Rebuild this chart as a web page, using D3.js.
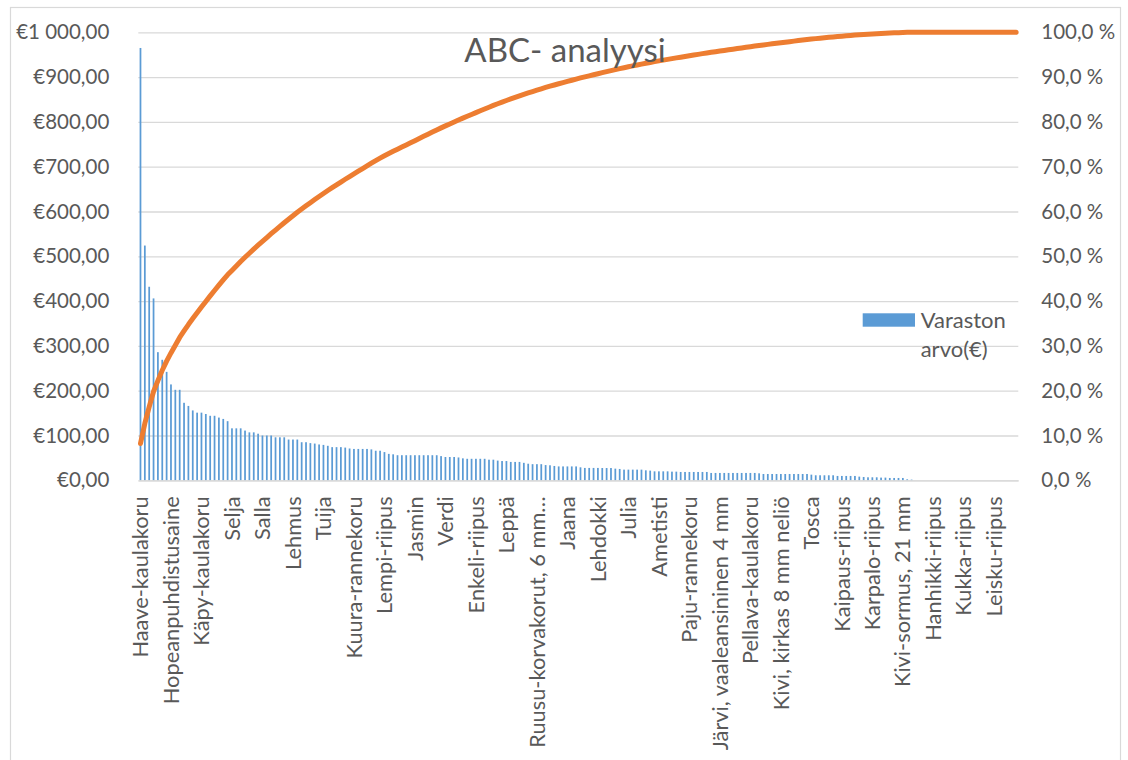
<!DOCTYPE html>
<html>
<head>
<meta charset="utf-8">
<script src="https://cdn.jsdelivr.net/npm/d3@7"></script>
<style>
  body { margin: 0; background: #fff; }
  svg { display: block; }
  text { font-family: Lato, "Open Sans", sans-serif; fill: #595959; }
</style>
</head>
<body>
<svg id="chart" width="1128" height="760"></svg>
<script>
// ABC analysis: stock value per item (sorted, descending) and cumulative share
const chartTitle = "ABC- analyysi";
const seriesLabel = ["Varaston", "arvo(€)"];

// Stock value (€) per item, items 1–202
const stockValues = [
  965, 524, 432, 406, 286, 269, 242, 214, 202, 202,
  173, 166, 156, 151, 151, 148, 144, 144, 140, 137,
  132, 116, 116, 116, 111, 107, 107, 104, 100, 100,
  100, 96, 96, 96, 91, 91, 91, 85, 85, 83,
  82, 80,
  79, 77, 74, 74, 74, 73, 71, 70, 70, 70,
  70, 69, 66, 66, 63, 59, 58, 56, 56, 56,
  56, 56, 56, 56, 56, 56, 56, 54, 52, 52,
  52, 51, 49, 48, 48, 48, 48, 48, 46, 46,
  44, 43, 43, 41, 41, 41, 39, 37, 36, 36,
  36, 34, 33.5, 32, 31, 31, 31, 31, 31, 29,
  27.6, 27.6, 27.6, 27.6,
  27.4, 27.4, 27.4, 26, 25.3, 23.8, 23.8, 23.8, 23.8, 23.8,
  22.3, 21.6, 20, 20, 20, 20, 19.3, 19.3, 18.6, 18.6,
  18.6, 18.6, 18.6, 18.6, 18.6, 16.4, 16.4, 16.4, 16.4, 16.4,
  16.4, 16.4, 16.4, 16.4, 16.4, 16.4, 15.6, 14.1, 14.1, 14.1,
  14.1, 14.1, 14.1, 14.1, 14.1, 14.1, 14.1, 14.1, 12.6, 11.2,
  11.2, 11.2, 11.2, 11.2, 9.7, 9.7, 9.7, 9.7, 9.7, 8.2,
  7.4, 6.7, 6.7, 6.7, 6, 6, 5.2, 5.2, 5.2, 5.2,
  2.2, 1.5,
  0, 0, 0, 0, 0, 0, 0, 0, 0, 0,
  0, 0, 0, 0, 0, 0, 0, 0, 0, 0,
  0, 0, 0, 0
];

// Item names shown on the category axis (every 7th item)
const labelEvery = 7;
const itemLabels = [
  "Haave-kaulakoru", "Hopeanpuhdistusaine", "Käpy-kaulakoru", "Selja", "Salla",
  "Lehmus", "Tuija", "Kuura-rannekoru", "Lempi-riipus", "Jasmin",
  "Verdi", "Enkeli-riipus", "Leppä", "Ruusu-korvakorut, 6 mm…", "Jaana",
  "Lehdokki", "Julia", "Ametisti", "Paju-rannekoru", "Järvi, vaaleansininen 4 mm",
  "Pellava-kaulakoru", "Kivi, kirkas 8 mm neliö", "Tosca", "Kaipaus-riipus", "Karpalo-riipus",
  "Kivi-sormus, 21 mm", "Hanhikki-riipus", "Kukka-riipus", "Leisku-riipus"
];

const valueTicks = [0, 100, 200, 300, 400, 500, 600, 700, 800, 900, 1000];
const shareTicks = [0, 0.1, 0.2, 0.3, 0.4, 0.5, 0.6, 0.7, 0.8, 0.9, 1.0];

const plot = { left: 138.3, right: 1018.3, top: 32.3, bottom: 480.3 };
const barColor = "#5B9BD5";
const lineColor = "#ED7D31";
const gridColor = "#d9d9d9";

const fi = d3.formatLocale({ decimal: ",", thousands: "\u00a0", grouping: [3], currency: ["€", ""] });
const euro = fi.format("$,.2f");
const pct1 = fi.format(".1f");

const svg = d3.select("#chart");

// chart area frame
svg.append("rect")
  .attr("x", 10.5).attr("y", 7.5).attr("width", 1110).attr("height", 800)
  .attr("fill", "#fff").attr("stroke", gridColor).attr("stroke-width", 1.2);

const idx = d3.range(stockValues.length);
const x = d3.scaleBand().domain(idx).range([plot.left, plot.right])
  .paddingInner(0.6).paddingOuter(0.3);
const y = d3.scaleLinear().domain([0, 1000]).range([plot.bottom, plot.top]);
const yShare = d3.scaleLinear().domain([0, 1]).range([plot.bottom, plot.top]);

// left axis with gridlines
const gLeft = svg.append("g").attr("transform", `translate(${plot.left},0)`)
  .call(d3.axisLeft(y).tickValues(valueTicks)
    .tickSize(-(plot.right - plot.left)).tickPadding(29)
    .tickFormat(d => euro(d)));
gLeft.select(".domain").remove();
gLeft.selectAll(".tick line").attr("stroke", gridColor).attr("stroke-width", 1.3);
gLeft.selectAll(".tick text").style("font-size", "20.5px").style("fill", "#595959");

// right axis (cumulative share)
const gRight = svg.append("g").attr("transform", `translate(${plot.right},0)`)
  .call(d3.axisRight(yShare).tickValues(shareTicks).tickSize(0).tickPadding(23)
    .tickFormat(d => pct1(d * 100) + " %"));
gRight.select(".domain").remove();
gRight.selectAll(".tick text").style("font-size", "20.5px").style("fill", "#595959");

// bars
svg.append("g").selectAll("rect").data(stockValues).join("rect")
  .attr("x", (d, i) => x(i))
  .attr("y", d => y(d))
  .attr("width", x.bandwidth())
  .attr("height", d => y(0) - y(d))
  .attr("fill", barColor);

// category axis
const gBottom = svg.append("g").attr("transform", `translate(0,${plot.bottom})`)
  .call(d3.axisBottom(x)
    .tickValues(idx.filter(i => i % labelEvery === 0))
    .tickFormat(i => itemLabels[i / labelEvery])
    .tickSize(0).tickSizeOuter(0));
gBottom.select(".domain").attr("stroke", gridColor).attr("stroke-width", 1.3);
gBottom.selectAll(".tick text")
  .attr("transform", "rotate(-90)")
  .attr("text-anchor", "end")
  .attr("x", -16).attr("y", 0).attr("dy", "0.35em")
  .style("font-size", "21.8px").style("fill", "#595959");

// cumulative share line
const total = d3.sum(stockValues);
const cumShare = Array.from(d3.cumsum(stockValues), v => v / total);
svg.append("path")
  .datum(cumShare)
  .attr("fill", "none")
  .attr("stroke", lineColor)
  .attr("stroke-width", 5)
  .attr("stroke-linecap", "round")
  .attr("stroke-linejoin", "round")
  .attr("d", d3.line()
    .x((d, i) => x(i) + x.bandwidth() / 2)
    .y(d => yShare(d)));

// title
svg.append("text")
  .attr("x", 565).attr("y", 61.5)
  .attr("text-anchor", "middle")
  .style("font-size", "33px")
  .text(chartTitle);

// legend
const legend = svg.append("g");
legend.append("rect")
  .attr("x", 862.7).attr("y", 313.3).attr("width", 52.3).attr("height", 13.4)
  .attr("fill", barColor);
legend.append("text")
  .attr("x", 920.7).attr("y", 328.3)
  .style("font-size", "22px")
  .selectAll("tspan").data(seriesLabel).join("tspan")
  .attr("x", 920.7)
  .attr("dy", (d, i) => i === 0 ? 0 : 28.5)
  .text(d => d);
</script>
</body>
</html>
